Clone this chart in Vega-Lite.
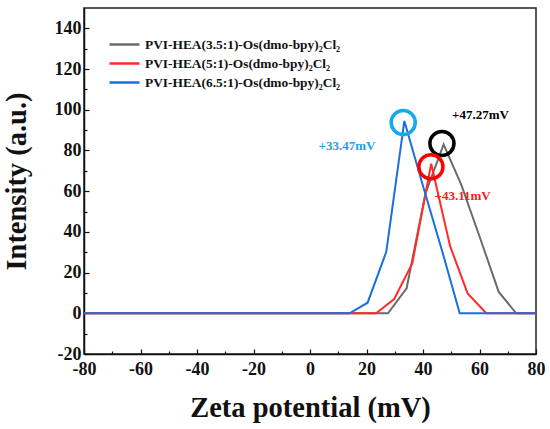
{
  "$schema": "https://vega.github.io/schema/vega-lite/v6.json",
  "width": 452,
  "height": 346,
  "autosize": {"type": "none"},
  "padding": {"left": 84, "top": 8, "right": 14, "bottom": 75},
  "background": "white",
  "datasets": {
    "curves": [
      {"series": "PVI-HEA(3.5:1)-Os(dmo-bpy)₂Cl₂", "zeta": -80, "intensity": 0},
      {"series": "PVI-HEA(3.5:1)-Os(dmo-bpy)₂Cl₂", "zeta": 27.6, "intensity": 0},
      {"series": "PVI-HEA(3.5:1)-Os(dmo-bpy)₂Cl₂", "zeta": 34.2, "intensity": 12.3},
      {"series": "PVI-HEA(3.5:1)-Os(dmo-bpy)₂Cl₂", "zeta": 40.9, "intensity": 59},
      {"series": "PVI-HEA(3.5:1)-Os(dmo-bpy)₂Cl₂", "zeta": 47.3, "intensity": 83},
      {"series": "PVI-HEA(3.5:1)-Os(dmo-bpy)₂Cl₂", "zeta": 53.6, "intensity": 63},
      {"series": "PVI-HEA(3.5:1)-Os(dmo-bpy)₂Cl₂", "zeta": 60.2, "intensity": 37},
      {"series": "PVI-HEA(3.5:1)-Os(dmo-bpy)₂Cl₂", "zeta": 66.8, "intensity": 10.5},
      {"series": "PVI-HEA(3.5:1)-Os(dmo-bpy)₂Cl₂", "zeta": 73.0, "intensity": 0},
      {"series": "PVI-HEA(3.5:1)-Os(dmo-bpy)₂Cl₂", "zeta": 80, "intensity": 0},
      {"series": "PVI-HEA(5:1)-Os(dmo-bpy)₂Cl₂", "zeta": -80, "intensity": 0},
      {"series": "PVI-HEA(5:1)-Os(dmo-bpy)₂Cl₂", "zeta": 23.4, "intensity": 0},
      {"series": "PVI-HEA(5:1)-Os(dmo-bpy)₂Cl₂", "zeta": 29.8, "intensity": 7},
      {"series": "PVI-HEA(5:1)-Os(dmo-bpy)₂Cl₂", "zeta": 36.2, "intensity": 24.5},
      {"series": "PVI-HEA(5:1)-Os(dmo-bpy)₂Cl₂", "zeta": 42.9, "intensity": 73.5},
      {"series": "PVI-HEA(5:1)-Os(dmo-bpy)₂Cl₂", "zeta": 49.6, "intensity": 33},
      {"series": "PVI-HEA(5:1)-Os(dmo-bpy)₂Cl₂", "zeta": 55.8, "intensity": 9.8},
      {"series": "PVI-HEA(5:1)-Os(dmo-bpy)₂Cl₂", "zeta": 62.4, "intensity": 0},
      {"series": "PVI-HEA(5:1)-Os(dmo-bpy)₂Cl₂", "zeta": 80, "intensity": 0},
      {"series": "PVI-HEA(6.5:1)-Os(dmo-bpy)₂Cl₂", "zeta": -80, "intensity": 0},
      {"series": "PVI-HEA(6.5:1)-Os(dmo-bpy)₂Cl₂", "zeta": 14.0, "intensity": 0},
      {"series": "PVI-HEA(6.5:1)-Os(dmo-bpy)₂Cl₂", "zeta": 20.4, "intensity": 5.2},
      {"series": "PVI-HEA(6.5:1)-Os(dmo-bpy)₂Cl₂", "zeta": 27.0, "intensity": 30.2},
      {"series": "PVI-HEA(6.5:1)-Os(dmo-bpy)₂Cl₂", "zeta": 33.4, "intensity": 94.5},
      {"series": "PVI-HEA(6.5:1)-Os(dmo-bpy)₂Cl₂", "zeta": 39.9, "intensity": 63},
      {"series": "PVI-HEA(6.5:1)-Os(dmo-bpy)₂Cl₂", "zeta": 46.7, "intensity": 31},
      {"series": "PVI-HEA(6.5:1)-Os(dmo-bpy)₂Cl₂", "zeta": 53.0, "intensity": 0},
      {"series": "PVI-HEA(6.5:1)-Os(dmo-bpy)₂Cl₂", "zeta": 80, "intensity": 0}
    ],
    "peaks": [
      {"series": "PVI-HEA(3.5:1)-Os(dmo-bpy)₂Cl₂", "zeta": 46.7, "intensity": 83.4, "label": "+47.27mV", "lx": 50.3, "ly": 97.3},
      {"series": "PVI-HEA(5:1)-Os(dmo-bpy)₂Cl₂", "zeta": 42.8, "intensity": 72, "label": "+43.11mV", "lx": 44.1, "ly": 57.7},
      {"series": "PVI-HEA(6.5:1)-Os(dmo-bpy)₂Cl₂", "zeta": 33.0, "intensity": 93.7, "label": "+33.47mV", "lx": 3.0, "ly": 82.1}
    ],
    "zero": [{"zeta": -0.7}]
  },
  "layer": [
    {
      "data": {"name": "zero"},
      "mark": {"type": "rule", "color": "#2db84d", "strokeWidth": 1.2},
      "encoding": {"x": {"field": "zeta", "type": "quantitative"}}
    },
    {
      "data": {"name": "curves"},
      "mark": {"type": "line", "strokeWidth": 2},
      "encoding": {
        "x": {"field": "zeta", "type": "quantitative"},
        "y": {"field": "intensity", "type": "quantitative"},
        "color": {
          "field": "series",
          "type": "nominal",
          "sort": null,
          "scale": {
            "domain": ["PVI-HEA(3.5:1)-Os(dmo-bpy)₂Cl₂", "PVI-HEA(5:1)-Os(dmo-bpy)₂Cl₂", "PVI-HEA(6.5:1)-Os(dmo-bpy)₂Cl₂"],
            "range": ["#6b6b6b", "#ff2b2b", "#1a6fe0"]
          },
          "legend": {
            "title": null,
            "orient": "none",
            "legendX": 24,
            "legendY": 27,
            "symbolType": "stroke",
            "symbolSize": 900,
            "symbolStrokeWidth": 2.5,
            "clipHeight": 19,
            "labelFont": "Liberation Serif",
            "labelFontWeight": "bold",
            "labelFontSize": 13.4,
            "labelColor": "#111111",
            "labelOffset": 4,
            "rowPadding": 0,
            "labelLimit": 400
          }
        }
      }
    },
    {
      "data": {"name": "peaks"},
      "mark": {"type": "point", "shape": "circle", "filled": false, "size": 580, "strokeWidth": 3.5, "opacity": 1},
      "encoding": {
        "x": {"field": "zeta", "type": "quantitative"},
        "y": {"field": "intensity", "type": "quantitative"},
        "stroke": {
          "field": "series",
          "type": "nominal",
          "scale": {
            "domain": ["PVI-HEA(3.5:1)-Os(dmo-bpy)₂Cl₂", "PVI-HEA(5:1)-Os(dmo-bpy)₂Cl₂", "PVI-HEA(6.5:1)-Os(dmo-bpy)₂Cl₂"],
            "range": ["#000000", "#ff0000", "#15a8ea"]
          },
          "legend": null
        }
      }
    },
    {
      "data": {"name": "peaks"},
      "mark": {"type": "text", "align": "left", "baseline": "middle", "font": "Liberation Serif", "fontWeight": "bold", "fontSize": 13},
      "encoding": {
        "x": {"field": "lx", "type": "quantitative"},
        "y": {"field": "ly", "type": "quantitative"},
        "text": {"field": "label"},
        "fill": {
          "field": "series",
          "type": "nominal",
          "scale": {
            "domain": ["PVI-HEA(3.5:1)-Os(dmo-bpy)₂Cl₂", "PVI-HEA(5:1)-Os(dmo-bpy)₂Cl₂", "PVI-HEA(6.5:1)-Os(dmo-bpy)₂Cl₂"],
            "range": ["#000000", "#ff1a1a", "#1aa3e6"]
          },
          "legend": null
        }
      }
    }
  ],
  "encoding": {
    "x": {
      "field": "zeta",
      "type": "quantitative",
      "title": "Zeta potential (mV)",
      "scale": {"domain": [-80, 80], "nice": false, "zero": false},
      "axis": {
        "values": [-80, -70, -60, -50, -40, -30, -20, -10, 0, 10, 20, 30, 40, 50, 60, 70, 80],
        "labelExpr": "datum.value % 20 === 0 ? '' + datum.value : ''",
        "tickSize": {"condition": {"test": "datum.value % 20 === 0", "value": -5}, "value": -3},
        "labelPadding": 11,
        "titlePadding": 13
      }
    },
    "y": {
      "field": "intensity",
      "type": "quantitative",
      "title": "Intensity (a.u.)",
      "scale": {"domain": [-20, 150], "nice": false, "zero": false},
      "axis": {
        "values": [-20, -10, 0, 10, 20, 30, 40, 50, 60, 70, 80, 90, 100, 110, 120, 130, 140],
        "labelExpr": "datum.value % 20 === 0 ? '' + datum.value : ''",
        "tickSize": {"condition": {"test": "datum.value % 20 === 0", "value": -5}, "value": -3},
        "labelPadding": 8,
        "titlePadding": 23
      }
    }
  },
  "config": {
    "view": {"stroke": "#222222", "strokeWidth": 1.5},
    "axis": {
      "grid": false,
      "domainColor": "#111111",
      "domainWidth": 1.5,
      "tickColor": "#111111",
      "tickWidth": 1.2,
      "labelFont": "Liberation Serif",
      "labelFontWeight": "bold",
      "labelFontSize": 18,
      "labelColor": "#111111",
      "titleFont": "Liberation Serif",
      "titleFontWeight": "bold",
      "titleFontSize": 28.5,
      "titleColor": "#111111",
      "labelFlush": false,
      "labelOverlap": false
    }
  }
}
